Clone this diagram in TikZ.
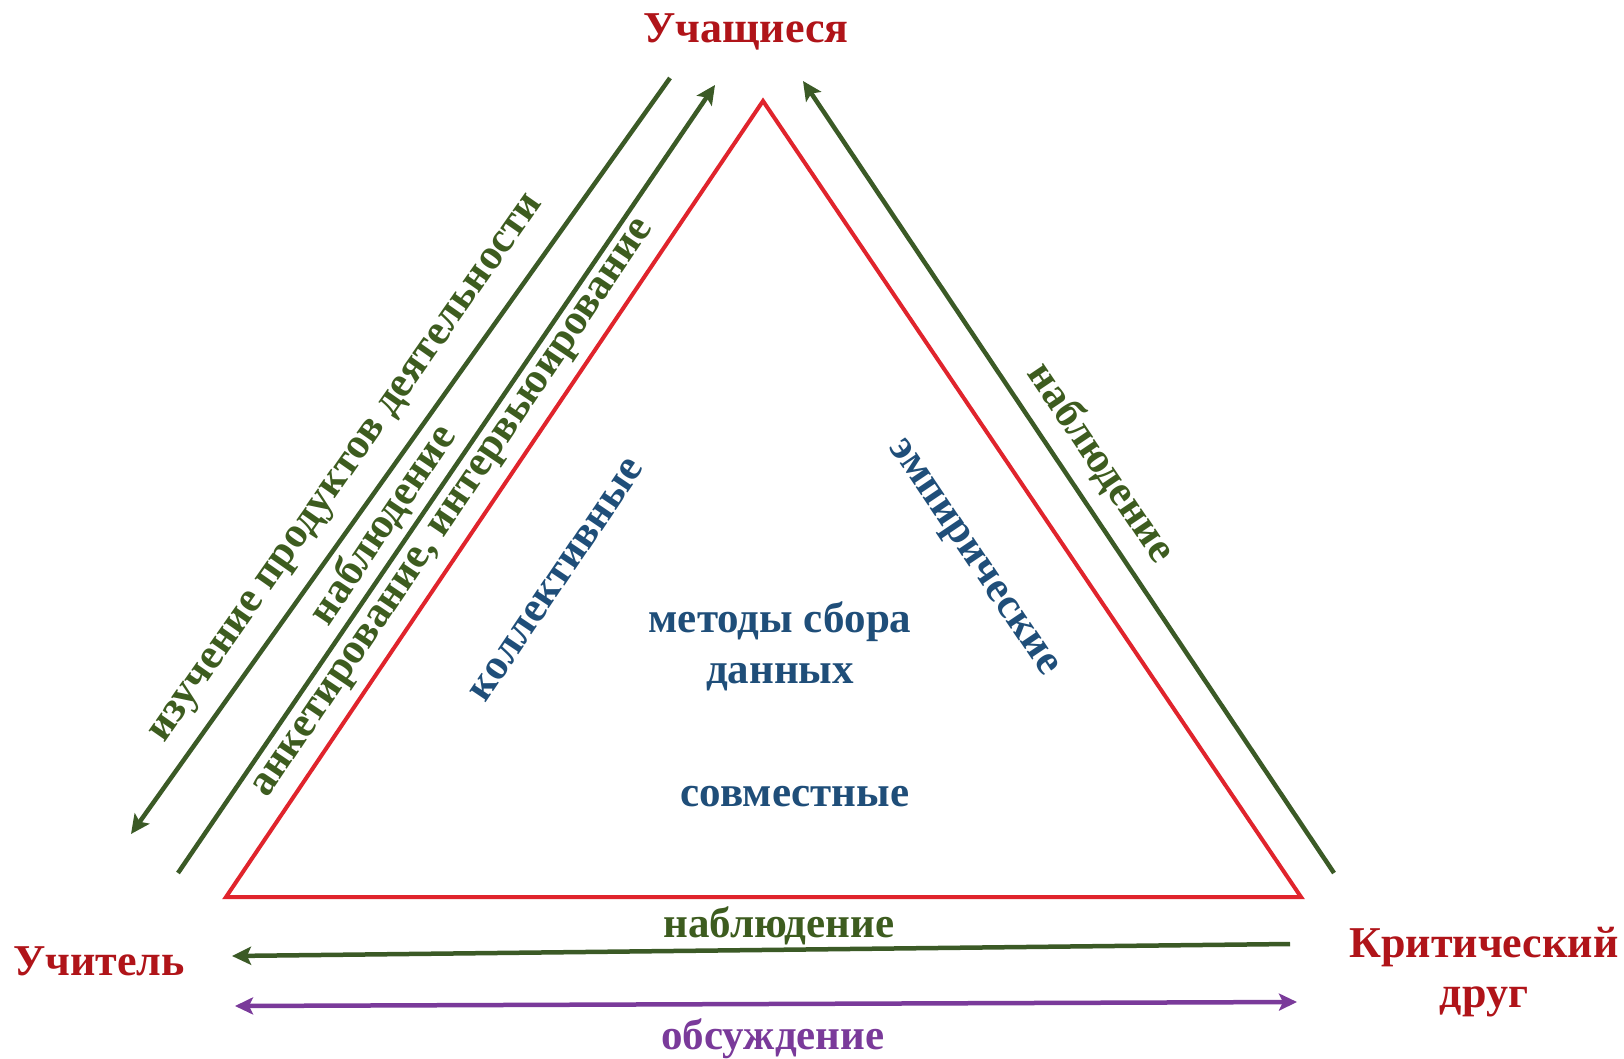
\documentclass[tikz,border=0pt]{standalone}
\usepackage{fontspec}
\setmainfont{Liberation Serif}
\usetikzlibrary{arrows.meta}
\definecolor{dred}{HTML}{B01419}
\definecolor{tred}{HTML}{E0242C}
\definecolor{dgreen}{HTML}{3B5A26}
\definecolor{tgreen}{HTML}{3D5C1F}
\definecolor{purp}{HTML}{7A3A9A}
\definecolor{dblue}{HTML}{1F4E79}
\tikzset{
  role/.style={text=dred,font=\bfseries\fontsize{44}{50}\selectfont,align=center,inner sep=0pt},
  meth/.style={text=tgreen,font=\bfseries\fontsize{43}{48}\selectfont,inner sep=0pt},
  kind/.style={text=dblue,font=\bfseries\fontsize{43}{51}\selectfont,align=center,inner sep=0pt},
  garrow/.style={draw=dgreen,line width=4.5pt,-{Stealth[length=19pt,width=18pt,inset=4pt]}},
  parrow/.style={draw=purp,line width=4.5pt,{Stealth[length=18pt,width=17pt,inset=4pt]}-{Stealth[length=18pt,width=17pt,inset=4pt]}},
  tri/.style={draw=tred,line width=4pt,line join=miter}
}
\begin{document}
\begin{tikzpicture}[x=1pt,y=-1pt]
\useasboundingbox[fill=white] (0,0) rectangle (1624,1059);
% triangle
\coordinate (A) at (763,101);
\coordinate (B) at (226,897);
\coordinate (C) at (1301,897);
\draw[tri] (A) -- (B) -- (C) -- cycle;
% role labels
\node[role] (stud) at (746,32) {Учащиеся};
\node[role] (teach) at (99,961) {Учитель};
\node[role] (friend) at (1484,972) {Критический\\друг};
% arrow end points
\coordinate (l1s) at (670,78);
\coordinate (l1e) at (131,834);
\coordinate (l2s) at (178,873);
\coordinate (l2e) at (715,85);
\coordinate (r1s) at (1334,873);
\coordinate (r1e) at (803,81);
\coordinate (b1s) at (1290,944);
\coordinate (b1e) at (232,956);
\coordinate (b2s) at (235,1006);
\coordinate (b2e) at (1297,1002);
\draw[garrow] (l1s) -- (l1e);
\draw[garrow] (l2s) -- (l2e);
\draw[garrow] (r1s) -- (r1e);
\draw[garrow] (b1s) -- (b1e);
\draw[parrow] (b2s) -- (b2e);
% method labels
\node[meth,rotate=55] (m1) at (349,470) {изучение продуктов деятельности};
\node[meth,rotate=56] (m2) at (383,525) {наблюдение};
\node[meth,rotate=56] (m3) at (456,510) {анкетирование, интервьюирование};
\node[meth,rotate=-56] (m4) at (1101,463) {наблюдение};
\node[meth] (m5) at (779,926) {наблюдение};
\node[meth,text=purp] (m6) at (773,1039) {обсуждение};
% inner labels
\node[kind,rotate=56] (k1) at (557,580) {коллективные};
\node[kind,rotate=-56] (k2) at (971,559) {эмпирические};
\node[kind] (k3) at (780,646) {методы сбора\\данных};
\node[kind] (k4) at (795,797) {совместные};
\end{tikzpicture}
\end{document}
